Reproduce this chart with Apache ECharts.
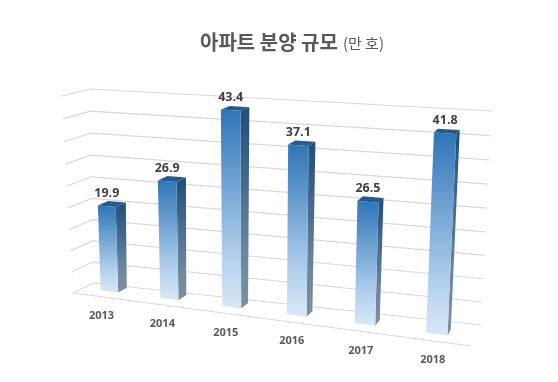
<!DOCTYPE html>
<html><head><meta charset="utf-8">
<style>html,body{margin:0;padding:0;background:#fff}#c{width:558px;height:382px}</style>
<script src="https://cdn.jsdelivr.net/npm/echarts@6/dist/echarts.min.js"></script>
</head><body><div id="c"></div>
<script>
const categories = ['2013','2014','2015','2016','2017','2018'];
const values = [19.9,26.9,43.4,37.1,26.5,41.8];
const gridTicks = [0,5,10,15,20,25,30,35,40,45];
const titleMain = '아파트 분양 규모';
const titleUnit = '(만 호)';

// perspective camera: where the corners of the chart box land on the page
const backQuad  = [[93,283],[481,325],[492,111],[90,89]];
const frontQuad = [[73,293],[471,346],[482,124],[62,96]];
function homography(q){
  const [[x0,y0],[x1,y1],[x2,y2],[x3,y3]] = q;
  const dx1=x1-x2,dx2=x3-x2,sx=x0-x1+x2-x3,dy1=y1-y2,dy2=y3-y2,sy=y0-y1+y2-y3;
  const den=dx1*dy2-dx2*dy1, g=(sx*dy2-dx2*sy)/den, h=(dx1*sy-sx*dy1)/den;
  const a=x1-x0+g*x1,b=x3-x0+h*x3,d=y1-y0+g*y1,e=y3-y0+h*y3;
  return (u,v)=>{const w=g*u+h*v+1;return [(a*u+b*v+x0)/w,(d*u+e*v+y0)/w];};
}
const hBack=homography(backQuad), hFront=homography(frontQuad);
function project(u,v,depth){
  const f=hFront(u,v), b=hBack(u,v);
  return [f[0]+(b[0]-f[0])*depth, f[1]+(b[1]-f[1])*depth];
}
function toUnit(pt,cs){ return [(pt[0]-cs.x)/cs.width,(cs.y+cs.height-pt[1])/cs.height]; }

const barRatio=0.295;
const depthFront=u=>0.5-0.17*u, depthBack=u=>0.95-0.35*u;
const barShift=u=>-0.008*(1-Math.pow(u,4));
const grad=(a,b,c)=>new echarts.graphic.LinearGradient(0,0,0,1,[{offset:0,color:a},{offset:0.74,color:b},{offset:1,color:c}]);

function renderBar(params,api){
  const cs=params.coordSys;
  const i=api.value(0), val=api.value(1);
  const top=toUnit(api.coord([i,val]),cs), base=toUnit(api.coord([i,0]),cs);
  const hw=api.size([1,0])[0]*barRatio/2/cs.width;
  const uc=top[0]+barShift(top[0]), u0=uc-hw, u1=uc+hw, vt=top[1], vb=base[1];
  const df=depthFront(uc), db=depthBack(uc);
  const P=(u,v,d)=>project(u,v,d);
  const poly=(pts,fill,z2)=>({type:'polygon',shape:{points:pts},style:{fill:fill},z2:z2});
  const tf=P((u0+u1)/2,vt,df);
  return {type:'group',children:[
    poly([P(u0,vt,df),P(u1,vt,df),P(u1,vt,db),P(u0,vt,db)],'#26598c',1),
    poly([P(u1,vt,df),P(u1,vt,db),P(u1,vb,db),P(u1,vb,df)],grad('#1f4e79','#6c87a1','#7f8f9f'),1),
    poly([P(u0,vt,df),P(u1,vt,df),P(u1,vb,df),P(u0,vb,df)],grad('#2e75b6','#b3d0ed','#d9e8f7'),2),
    {type:'text',x:tf[0],y:tf[1]-13,z2:3,style:{text:val.toFixed(1),fill:'#404040',
      font:'bold 12.5px "Open Sans", "Noto Sans", sans-serif',align:'center',verticalAlign:'middle'}}
  ]};
}
function renderGrid(params,api){
  const cs=params.coordSys;
  const v=toUnit(api.coord([0,api.value(0)]),cs)[1];
  const a=project(0,v,0),b=project(0,v,1),c=project(1,v,1);
  return {type:'polyline',shape:{points:[a,b,c]},style:{stroke:'#d9d9d9',lineWidth:1.2,fill:'none'}};
}
function renderFloor(params,api){
  const cs=params.coordSys;
  const uc=toUnit(api.coord([api.value(0),0]),cs)[0];
  const i=api.value(0);
  const a=project(uc,0,0);
  const children=[{type:'text',x:a[0]-1,y:a[1]+19,style:{text:categories[i],fill:'#595959',
    font:'bold 11px "Open Sans", "Noto Sans", sans-serif',align:'center',verticalAlign:'middle'}}];
  if(i===0){children.push({type:'line',shape:{x1:project(0,0,0)[0],y1:project(0,0,0)[1],x2:project(1,0,0)[0],y2:project(1,0,0)[1]},style:{stroke:'#d9d9d9',lineWidth:1.2}});}
  return {type:'group',children};
}
const chart=echarts.init(document.getElementById('c'),null,{renderer:'canvas'});
chart.setOption({
  animation:false,
  backgroundColor:'#fff',
  title:{text:'{m|'+titleMain+'} {u|'+titleUnit+'}',left:195,top:27,
    textStyle:{rich:{
      m:{fontFamily:'"Noto Sans CJK KR"',fontSize:20,fontWeight:'bold',color:'#595959'},
      u:{fontFamily:'"Noto Sans CJK KR"',fontSize:15,fontWeight:'normal',color:'#595959',padding:[3,0,0,0]}}}},
  grid:{left:0,right:0,top:0,bottom:0},
  xAxis:{type:'category',data:categories,show:false},
  yAxis:{type:'value',min:0,max:45,interval:5,show:false,splitLine:{show:false}},
  series:[
    {type:'custom',silent:true,renderItem:renderGrid,encode:{y:0},data:gridTicks.map(t=>[t]),clip:false},
    {type:'custom',silent:true,renderItem:renderFloor,data:categories.map((c,i)=>[i]),encode:{x:0},clip:false},
    {type:'custom',silent:true,renderItem:renderBar,data:values.map((v,i)=>[i,v]),encode:{x:0,y:1},clip:false}
  ]
});
</script></body></html>
